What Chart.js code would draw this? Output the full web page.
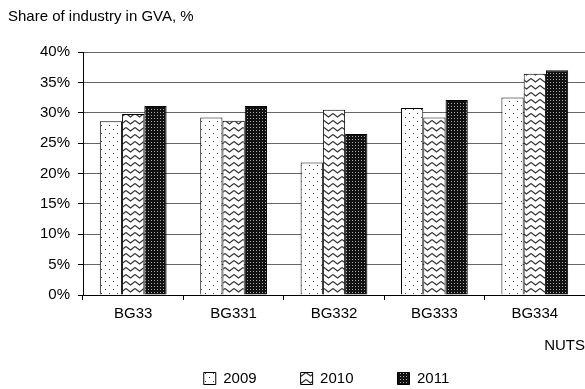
<!DOCTYPE html>
<html>
<head>
  <meta charset="utf-8" />
  <script src="https://cdn.jsdelivr.net/npm/chart.js@4.4.0/dist/chart.umd.min.js"></script>
  <style>
    body { margin: 0; background: #fff; }
    #wrap { width: 585px; height: 389px; }
  </style>
</head>
<body>
<div id="wrap"><canvas id="chart"></canvas></div>

<script>
/* ---------- Data ---------- */
const regions = ['BG33', 'BG331', 'BG332', 'BG333', 'BG334'];
const years = ['2009', '2010', '2011'];
const share2009 = [28.6, 29.2, 21.8, 30.8, 32.5];
const share2010 = [29.8, 28.7, 30.5, 29.2, 36.4];
const share2011 = [31.1, 31.1, 26.5, 32.1, 37.0];
const yTicks = [0, 5, 10, 15, 20, 25, 30, 35, 40];

const FONT = 'Arial, "Liberation Sans", sans-serif';

/* ---------- Fill patterns ---------- */
function tile(w, h, paint){
  const c = document.createElement('canvas');
  c.width = w; c.height = h;
  paint(c.getContext('2d'));
  return c.getContext('2d').createPattern(c, 'repeat');
}

// sparse dots on white
const dots = tile(8, 8, g => {
  g.fillStyle = '#fff'; g.fillRect(0, 0, 8, 8);
  g.fillStyle = '#444';
  g.fillRect(1, 1, 1, 1);
  g.fillRect(5, 5, 1, 1);
});

// zigzag rows
const zigzag = tile(9, 7, g => {
  g.fillStyle = '#fff'; g.fillRect(0, 0, 9, 7);
  g.strokeStyle = '#333'; g.lineWidth = 1.2;
  g.beginPath();
  g.moveTo(0, 1.5); g.lineTo(4.5, 5); g.lineTo(9, 1.5);
  g.stroke();
});

// dark checker
const checker = tile(3, 3, g => {
  g.fillStyle = '#111'; g.fillRect(0, 0, 3, 3);
  g.fillStyle = '#aaa'; g.fillRect(1, 1, 1, 1);
});

/* ---------- Legend spacing (wide gaps, tight box) ---------- */
const LEG_PAD = 44;
const legendSpacing = {
  id: 'legendSpacing',
  afterInit(chart){
    const lg = chart.legend;
    const fit = lg.fit.bind(lg), draw = lg.draw.bind(lg);
    lg.fit = function(){ fit(); this.height = 28; };
    lg.draw = function(){
      const dy = LEG_PAD - 10, dx = 30;
      this.top -= dy; this.left += dx; this.right += dx;
      draw();
      this.top += dy; this.left -= dx; this.right -= dx;
    };
  }
};

/* ---------- Chart ---------- */
const ds = (label, data, fill) => ({
  label, data,
  backgroundColor: fill,
  borderColor: '#000',
  borderWidth: 1,
  barPercentage: 1.0,
  categoryPercentage: 0.665
});

new Chart(document.getElementById('chart'), {
  type: 'bar',
  data: {
    labels: regions,
    datasets: [
      ds(years[0], share2009, dots),
      ds(years[1], share2010, zigzag),
      ds(years[2], share2011, checker)
    ]
  },
  options: {
    responsive: true,
    maintainAspectRatio: false,
    animation: false,
    layout: { padding: { left: 8, right: 0, top: 0, bottom: 0 } },
    plugins: {
      title: {
        display: true,
        text: 'Share of industry in GVA, %',
        align: 'start',
        color: '#000',
        font: { family: FONT, size: 15, weight: 'normal' },
        padding: { top: 8, bottom: 26 }
      },
      legend: {
        position: 'bottom',
        labels: {
          color: '#000',
          font: { family: FONT, size: 15 },
          boxWidth: 12, boxHeight: 12,
          padding: LEG_PAD
        }
      },
      tooltip: { enabled: false }
    },
    scales: {
      x: {
        grid: { offset: true, drawOnChartArea: false, color: '#000', tickLength: 5 },
        border: { color: '#000' },
        ticks: { color: '#000', font: { family: FONT, size: 15 }, padding: 5, maxRotation: 0 },
        title: {
          display: true, text: 'NUTS', align: 'end', color: '#000',
          font: { family: FONT, size: 15 },
          padding: { top: 9, bottom: 6 }
        }
      },
      y: {
        min: 0, max: 40,
        afterBuildTicks: s => { s.ticks = yTicks.map(v => ({ value: v })); },
        afterFit: s => { s.width = 75; },
        grid: { color: '#666', tickColor: '#000', tickLength: 5 },
        border: { color: '#000' },
        ticks: {
          color: '#000', font: { family: FONT, size: 15 }, padding: 8,
          callback: v => v + '%'
        }
      }
    }
  },
  plugins: [legendSpacing]
});
</script>
</body>
</html>
